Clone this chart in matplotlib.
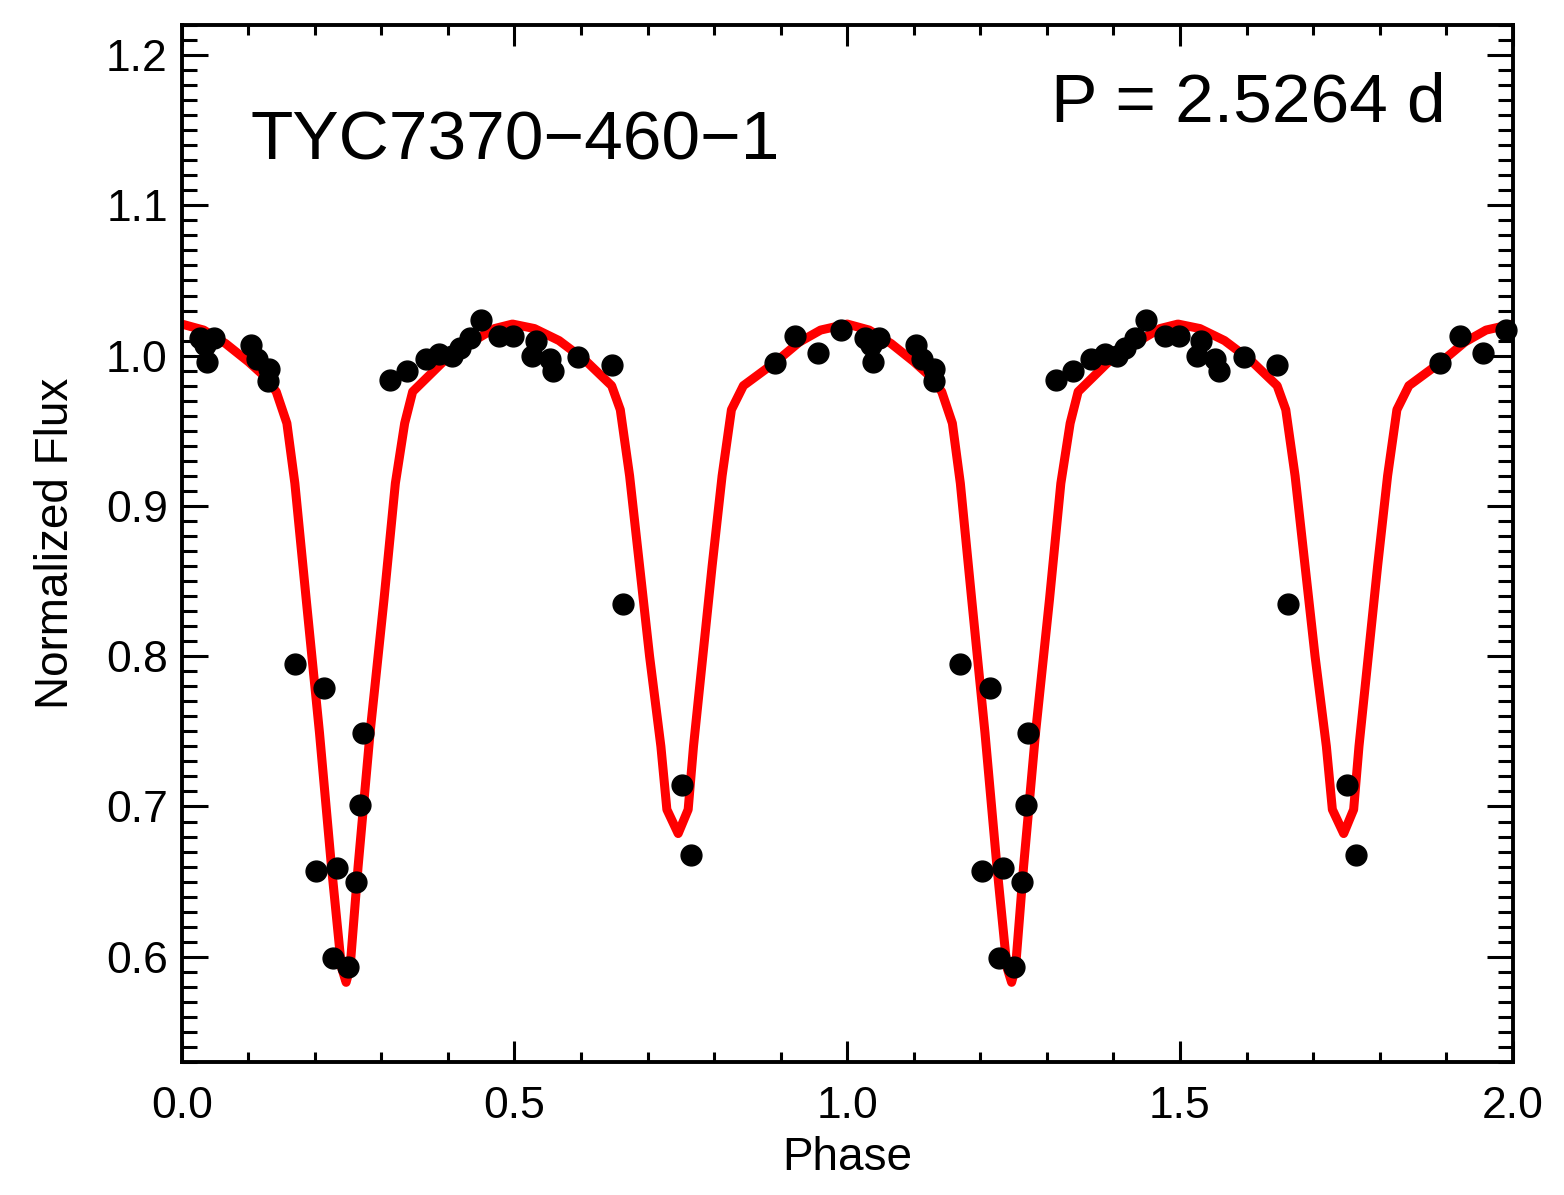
import numpy as np
import matplotlib
matplotlib.use("Agg")
import matplotlib.pyplot as plt
from matplotlib.ticker import MultipleLocator, FormatStrFormatter

plt.rcParams['font.family'] = ['Liberation Sans', 'DejaVu Sans']

# folded photometry, one cycle (drawn at phase and phase+1)
phase = [0.027, 0.035, 0.038, 0.048, 0.104, 0.113, 0.130, 0.131,
         0.170, 0.202, 0.214, 0.228, 0.234, 0.250, 0.262, 0.268, 0.272,
         0.313, 0.339, 0.367, 0.387, 0.406, 0.418, 0.433, 0.449, 0.477,
         0.498, 0.526, 0.532, 0.553, 0.558, 0.596, 0.646,
         0.663, 0.751, 0.765,
         0.891, 0.921, 0.956, 0.990]
flux = [1.012, 1.007, 0.996, 1.012, 1.007, 0.998, 0.983, 0.991,
        0.795, 0.657, 0.779, 0.599, 0.659, 0.593, 0.650, 0.701, 0.749,
        0.984, 0.990, 0.998, 1.001, 1.000, 1.005, 1.012, 1.024, 1.013,
        1.013, 1.000, 1.010, 0.998, 0.990, 0.999, 0.994,
        0.835, 0.714, 0.668,
        0.995, 1.013, 1.002, 1.017]

# model light curve, one cycle
mod_phase = [0.000, 0.033, 0.066, 0.100, 0.125, 0.142, 0.158, 0.170, 0.187,
             0.207, 0.225, 0.240, 0.247, 0.253, 0.265, 0.283, 0.304, 0.321,
             0.335, 0.347, 0.393, 0.443, 0.470, 0.497,
             0.530, 0.567, 0.606, 0.646, 0.659, 0.673, 0.688, 0.703, 0.720,
             0.729, 0.746, 0.761, 0.769, 0.783, 0.797, 0.812, 0.826,
             0.844, 0.893, 0.928, 0.960, 1.000]
mod_flux = [1.021, 1.017, 1.008, 0.996, 0.986, 0.976, 0.955, 0.915, 0.838,
            0.749, 0.660, 0.593, 0.583, 0.593, 0.660, 0.749, 0.838, 0.915,
            0.955, 0.976, 0.996, 1.011, 1.018, 1.021,
            1.018, 1.010, 0.997, 0.980, 0.964, 0.920, 0.860, 0.800, 0.740,
            0.698, 0.682, 0.698, 0.740, 0.800, 0.860, 0.920, 0.964,
            0.980, 0.996, 1.009, 1.017, 1.021]

ph2 = np.concatenate([phase, np.array(phase) + 1])
fl2 = np.concatenate([flux, flux])
mp2 = np.concatenate([mod_phase, np.array(mod_phase[1:]) + 1])
mf2 = np.concatenate([mod_flux, mod_flux[1:]])

fig = plt.figure(figsize=(15.64, 11.95), dpi=100)
ax = fig.add_axes([0.1162, 0.1113, 0.8510, 0.8678])

ax.plot(mp2, mf2, color='#ff0000', lw=6.5, zorder=2)
ax.plot(ph2, fl2, 'o', color='black', ms=15, zorder=3, clip_on=False)

ax.set_xlim(0, 2)
ax.set_ylim(0.53, 1.22)
ax.xaxis.set_major_locator(MultipleLocator(0.5))
ax.xaxis.set_minor_locator(MultipleLocator(0.1))
ax.yaxis.set_major_locator(MultipleLocator(0.1))
ax.yaxis.set_minor_locator(MultipleLocator(0.01))
ax.xaxis.set_major_formatter(FormatStrFormatter('%.1f'))
ax.yaxis.set_major_formatter(FormatStrFormatter('%.1f'))

ax.tick_params(which='both', direction='in', top=True, right=True, width=2.2, labelsize=32)
ax.tick_params(axis='x', which='major', length=15, pad=17)
ax.tick_params(axis='x', which='minor', length=7.5)
ax.tick_params(axis='y', which='major', length=19, pad=10)
ax.tick_params(axis='y', which='minor', length=10.5)
for s in ax.spines.values():
    s.set_linewidth(2.8)

ax.set_xlabel('Phase', fontsize=33)
ax.set_ylabel('Normalized Flux', fontsize=33)
ax.xaxis.set_label_coords(0.5, -0.071)
ax.yaxis.set_label_coords(-0.078, 0.5)

ax.text(0.052, 0.870, 'TYC7370\u2212460\u22121', transform=ax.transAxes, fontsize=50)
ax.text(0.653, 0.907, 'P = 2.5264 d', transform=ax.transAxes, fontsize=50)

fig.savefig('out.png', dpi=100)
